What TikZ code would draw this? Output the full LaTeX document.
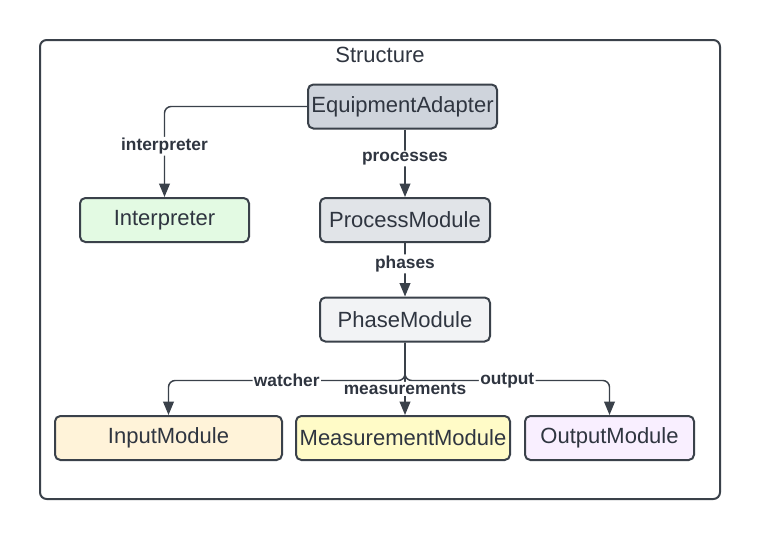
\documentclass[tikz,border=0pt]{standalone}
\usepackage{fontspec}
\setmainfont{Liberation Sans}
\usetikzlibrary{arrows.meta}

\definecolor{linha}{HTML}{3A414A}
\definecolor{texto}{HTML}{2F3540}
\definecolor{corAdapter}{HTML}{CFD4DC}
\definecolor{corInterp}{HTML}{E3FAE3}
\definecolor{corProcess}{HTML}{E1E4E8}
\definecolor{corPhase}{HTML}{F2F3F5}
\definecolor{corInput}{HTML}{FFF3D9}
\definecolor{corMeasure}{HTML}{FFFBC7}
\definecolor{corOutput}{HTML}{F9EFFF}

\begin{document}
\begin{tikzpicture}[x=0.75pt, y=-0.75pt, >={Triangle[width=8pt,length=10pt]},
    modulo/.style={draw=linha, line width=1.5pt, rounded corners=4pt, minimum height=33pt,
        inner sep=0pt, font=\fontsize{16.5}{19}\selectfont, text=texto},
    ligacao/.style={->, draw=linha, line width=1.1pt, rounded corners=5pt},
    rotulo/.style={fill=white, inner sep=1pt, font=\bfseries\fontsize{13}{15}\selectfont, text=texto}]
    \useasboundingbox (0,0) rectangle (760,540);

    % moldura externa
    \draw[linha, line width=1.5pt, rounded corners=5pt] (40,40) rectangle (720,499);
    \node[font=\fontsize{16.5}{19}\selectfont, text=texto] (titulo) at (380,55) {Structure};

    % modulos
    \node[modulo, fill=corAdapter, minimum width=141.75pt] (adapter) at (402.5,106.5) {EquipmentAdapter};
    \node[modulo, fill=corInterp, minimum width=126.75pt] (interp) at (164.5,220) {Interpreter};
    \node[modulo, fill=corProcess, minimum width=127.5pt] (process) at (405,220) {ProcessModule};
    \node[modulo, fill=corPhase, minimum width=127.5pt] (phase) at (405,319.5) {PhaseModule};
    \node[modulo, fill=corInput, minimum width=170.25pt] (input) at (168.5,438) {InputModule};
    \node[modulo, fill=corMeasure, minimum width=160.5pt] (measure) at (403,438) {MeasurementModule};
    \node[modulo, fill=corOutput, minimum width=126.75pt] (output) at (609.5,438) {OutputModule};

    % ligacoes
    \draw[ligacao] (adapter.west) -| node[rotulo, pos=0.72] {interpreter} (interp.north);
    \draw[ligacao] (adapter.south -| process.north) -- node[rotulo, pos=0.43] {processes} (process.north);
    \draw[ligacao] (process.south) -- node[rotulo, pos=0.39] {phases} (phase.north);

    \draw[ligacao] (phase.south) -- ++(0,38) -| node[rotulo, pos=0.25] {watcher} (input.north);
    \draw[ligacao] (phase.south) -- ++(0,38) -| node[rotulo, pos=0.25] {output} (output.north);
    \draw[ligacao] (phase.south) -- node[rotulo, pos=0.64] {measurements} (phase.south |- measure.north);

\end{tikzpicture}
\end{document}
